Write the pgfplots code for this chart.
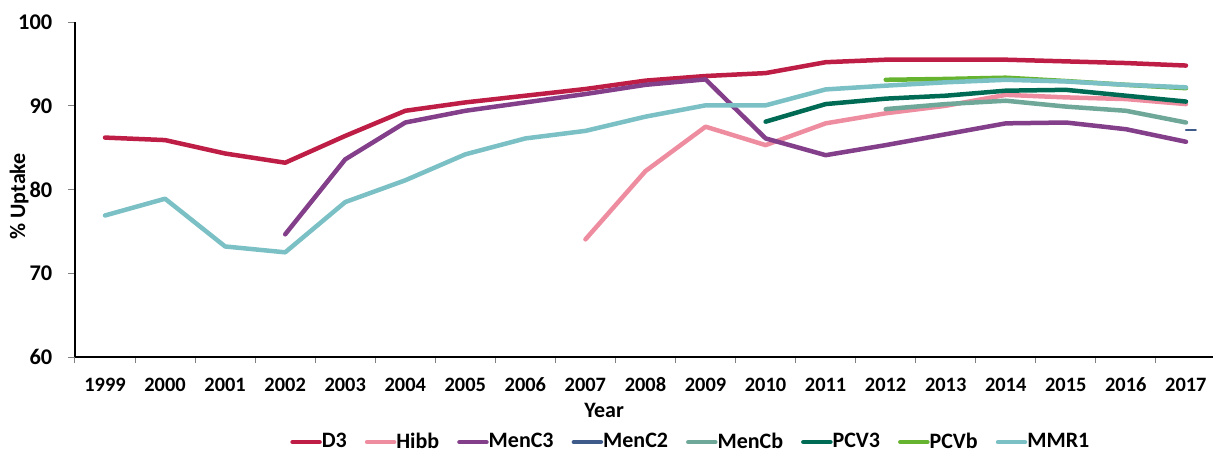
\documentclass[border=0pt]{standalone}
\usepackage{pgfplots}
\pgfplotsset{compat=1.18}
\usepackage{fontspec}
\setmainfont{Carlito}
\definecolor{cD}{HTML}{BE1E45}
\definecolor{cHibb}{HTML}{EE8CA0}
\definecolor{cMenC3}{HTML}{843F8B}
\definecolor{cMenC2}{HTML}{3E5B8A}
\definecolor{cMenCb}{HTML}{6FA898}
\definecolor{cPCV3}{HTML}{006B54}
\definecolor{cPCVb}{HTML}{65B32E}
\definecolor{cMMR}{HTML}{7BC0C5}
\begin{document}
\fontsize{11}{12}\selectfont\bfseries
\begin{tikzpicture}
\begin{axis}[
  at={(0,0)}, anchor=south west,
  scale only axis,
  width=569pt, height=167.5pt,
  xmin=1998.5, xmax=2017.45,
  ymin=60, ymax=100,
  axis lines=left,
  axis line style={-, black, line width=0.6pt},
  xtick={1999,...,2017},
  minor xtick={1998.5,1999.5,...,2016.5},
  ytick={60,70,...,100},
  major x tick style={draw=none},
  minor tick length=3pt,
  major tick length=3.5pt,
  tick align=outside,
  tick style={gray, line width=0.5pt},
  /pgf/number format/assume math mode=true,
  x tick label style={/pgf/number format/1000 sep={}, yshift=-3pt, font=\fontsize{10.2}{12}\selectfont\bfseries},
  y tick label style={xshift=-4pt, font=\fontsize{11.2}{12}\selectfont\bfseries},
  xlabel={Year},
  ylabel={\% Uptake},
  xlabel style={at={(axis description cs:0.465,-0.161)}, anchor=center, font=\fontsize{11}{12}\selectfont\bfseries},
  ylabel style={at={(axis description cs:-0.049,0.48)}, anchor=center, font=\fontsize{11}{12}\selectfont\bfseries},
  legend columns=8,
  legend style={draw=none, at={(axis description cs:0.542,-0.254)}, anchor=center,
    font=\fontsize{11}{12}\selectfont\bfseries,
    /tikz/every odd column/.append style={column sep=-2pt},
    /tikz/every even column/.append style={column sep=7pt}},
  legend image code/.code={\draw[#1, line width=2.25pt, line cap=round] (0pt,0pt) -- (13.5pt,0pt);},
  every axis plot/.append style={line width=2.25pt, line cap=round, line join=round},
]
\addplot[cD] coordinates {(1999,86.2)(2000,85.9)(2001,84.3)(2002,83.2)(2003,86.4)(2004,89.4)(2005,90.4)(2006,91.2)(2007,92.0)(2008,93.0)(2009,93.55)(2010,93.9)(2011,95.2)(2012,95.5)(2013,95.5)(2014,95.5)(2015,95.3)(2016,95.1)(2017,94.8)};
\addlegendentry{D3}
\addplot[cHibb] coordinates {(2007,74.05)(2008,82.2)(2009,87.5)(2010,85.3)(2011,87.9)(2012,89.1)(2013,90.0)(2014,91.3)(2015,91.0)(2016,90.8)(2017,90.2)};
\addlegendentry{Hibb}
\addplot[cMenC3] coordinates {(2002,74.65)(2003,83.6)(2004,88.0)(2005,89.4)(2006,90.4)(2007,91.4)(2008,92.5)(2009,93.15)(2010,86.1)(2011,84.1)(2012,85.3)(2013,86.6)(2014,87.9)(2015,88.0)(2016,87.2)(2017,85.7)};
\addlegendentry{MenC3}
\addplot[cMenC2, line width=1pt, mark=-, mark size=2.5pt, mark options={line width=1pt}] coordinates {(2017.08,87.1)};
\addlegendentry{MenC2}
\addplot[cMenCb] coordinates {(2012,89.6)(2013,90.2)(2014,90.6)(2015,89.9)(2016,89.4)(2017,88.0)};
\addlegendentry{MenCb}
\addplot[cPCV3] coordinates {(2010,88.1)(2011,90.2)(2012,90.85)(2013,91.2)(2014,91.8)(2015,91.9)(2016,91.2)(2017,90.5)};
\addlegendentry{PCV3}
\addplot[cPCVb] coordinates {(2012,93.1)(2013,93.2)(2014,93.35)(2015,92.95)(2016,92.5)(2017,92.1)};
\addlegendentry{PCVb}
\addplot[cMMR] coordinates {(1999,76.9)(2000,78.9)(2001,73.2)(2002,72.5)(2003,78.5)(2004,81.1)(2005,84.2)(2006,86.1)(2007,87.0)(2008,88.7)(2009,90.05)(2010,90.05)(2011,91.95)(2012,92.4)(2013,92.8)(2014,93.1)(2015,92.9)(2016,92.5)(2017,92.2)};
\addlegendentry{MMR1}
\end{axis}
\pgfresetboundingbox
\path[use as bounding box] (-37.5pt,-47.5pt) rectangle (569pt,178.5pt);
\end{tikzpicture}
\end{document}
